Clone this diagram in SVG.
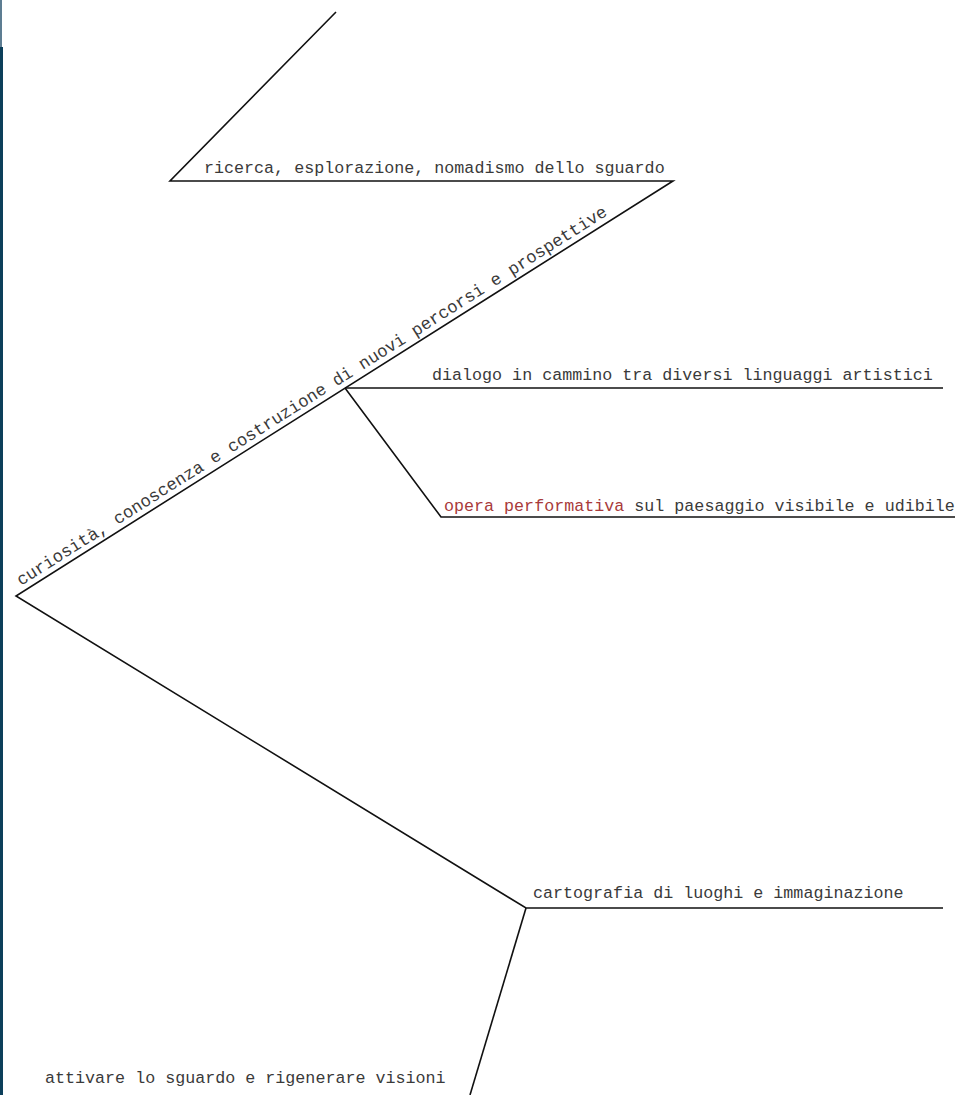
<svg xmlns="http://www.w3.org/2000/svg" width="957" height="1095" viewBox="0 0 957 1095">
<style>
.ln{fill:none;stroke:#111;stroke-width:1.6;stroke-linejoin:miter}
.t{font-family:"Liberation Mono","Courier New",monospace;font-size:16.7px;fill:#3a3a3a}
.d{font-size:17.3px}
.red{fill:#a83a3a}
</style>
<rect x="0" y="0" width="957" height="1095" fill="#ffffff"/>
<rect x="0" y="0" width="2" height="47" fill="#5d7d92"/>
<rect x="0" y="47" width="3" height="1048" fill="#0c3f5a"/>
<g id="connectors">
<polyline class="ln" points="336,12 170,181 673,181 16,596 526,908 943,908"/>
<polyline class="ln" points="526,908 470,1095"/>
<polyline class="ln" points="345,388 943,388"/>
<polyline class="ln" points="345,388 441,517 955,517"/>
</g>
<g id="n1"><text class="t" x="204" y="173">ricerca, esplorazione, nomadismo dello sguardo</text></g>
<g id="n2"><text class="t d" transform="translate(21,586) rotate(-32.3)" x="0" y="0">curiosità, conoscenza e costruzione di nuovi percorsi e prospettive</text></g>
<g id="n3"><text class="t" x="432" y="380">dialogo in cammino tra diversi linguaggi artistici</text></g>
<g id="n4"><text class="t" x="444" y="511"><tspan class="red">opera performativa</tspan> sul paesaggio visibile e udibile</text></g>
<g id="n5"><text class="t" x="533" y="898">cartografia di luoghi e immaginazione</text></g>
<g id="n6"><text class="t" x="45" y="1083">attivare lo sguardo e rigenerare visioni</text></g>
</svg>
